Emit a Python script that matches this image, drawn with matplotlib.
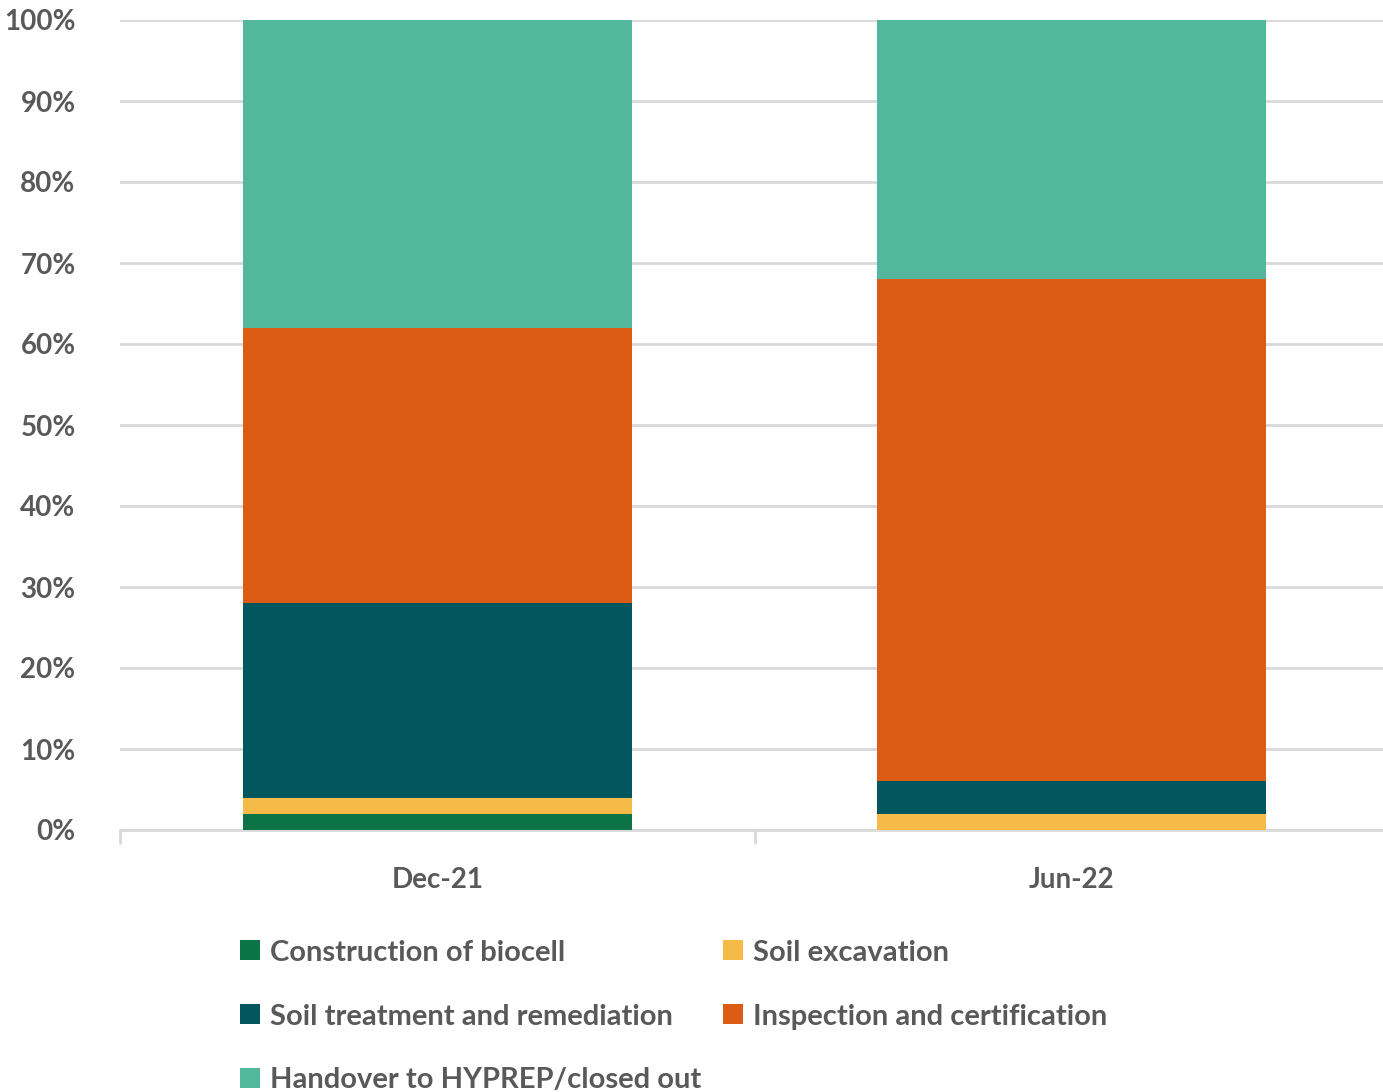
import matplotlib
matplotlib.use("Agg")
import matplotlib.pyplot as plt
import numpy as np

periods = ["Dec-21", "Jun-22"]
stages = [
    "Construction of biocell",
    "Soil excavation",
    "Soil treatment and remediation",
    "Inspection and certification",
    "Handover to HYPREP/closed out",
]
biocell = [2, 0]
excavation = [2, 2]
treatment = [24, 4]
inspection = [34, 62]
handover = [38, 32]
colors = ["#0B7346", "#F5BA48", "#02575E", "#DC5C15", "#53B79D"]

text_color = "#595959"
plt.rcParams["font.family"] = ["Lato", "DejaVu Sans"]

fig = plt.figure(figsize=(13.83, 10.92), dpi=100)
ax = fig.add_axes([120 / 1383, 1 - 830 / 1092, 1269 / 1383, 810 / 1092])

x = np.arange(len(periods))
bottom = np.zeros(len(periods))
for name, vals, col in zip(stages, [biocell, excavation, treatment, inspection, handover], colors):
    ax.bar(x, vals, width=0.613, bottom=bottom, color=col, label=name, zorder=3)
    bottom += np.array(vals)

ax.set_xlim(-0.5, 1.5)
ax.set_ylim(0, 100)
ax.set_yticks(range(0, 101, 10))
ax.set_yticklabels([f"{v}%" for v in range(0, 101, 10)], fontsize=20, fontweight="bold", color=text_color)
ax.yaxis.grid(True, color="#D9D9D9", linewidth=2, zorder=0)
ax.tick_params(axis="y", length=0, pad=32)

ax.set_xticks(x)
ax.set_xticklabels(periods, fontsize=20, fontweight="bold", color=text_color)
ax.set_xticks([-0.5, 0.5, 1.5], minor=True)
ax.tick_params(axis="x", which="major", length=0, pad=27)
ax.tick_params(axis="x", which="minor", length=10, width=2, color="#D9D9D9")

for side in ["top", "right", "left"]:
    ax.spines[side].set_visible(False)
ax.spines["bottom"].set_color("#D9D9D9")
ax.spines["bottom"].set_linewidth(2)

# legend fills row by row: reorder so matplotlib's column-wise fill reads across
handles, labels = ax.get_legend_handles_labels()
order = [0, 2, 4, 1, 3]
fig.legend([handles[i] for i in order], [labels[i] for i in order],
           loc="upper left", bbox_to_anchor=(228 / 1383, 1 - 928 / 1092),
           ncol=2, frameon=False, labelcolor=text_color,
           prop={"family": ["Lato", "DejaVu Sans"], "weight": "bold", "size": 21},
           handlelength=0.68, handleheight=0.68, handletextpad=0.35,
           columnspacing=0.75, labelspacing=1.3, borderaxespad=0)

fig.savefig("out.png", dpi=100)
